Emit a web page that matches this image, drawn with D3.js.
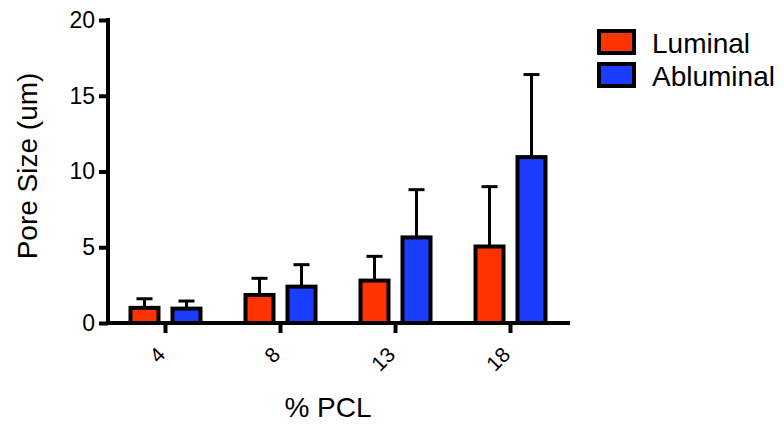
<!DOCTYPE html>
<html>
<head>
<meta charset="utf-8">
<script src="https://cdn.jsdelivr.net/npm/d3@7"></script>
<style>
  body { margin: 0; background: #fff; }
  svg { font-family: "Liberation Sans", Arial, sans-serif; }
</style>
</head>
<body>
<div id="chart"></div>
<script>
"use strict";

// Data
// ----

var categories = ["4", "8", "13", "18"];
var series     = ["Luminal", "Abluminal"];
var luminal    = [1.0, 1.85, 2.8, 5.05];
var luminalErr = [0.6, 1.1, 1.6, 3.95];
var ablum      = [0.95, 2.4, 5.65, 10.95];
var ablumErr   = [0.5, 1.45, 3.15, 5.45];
var yTicks     = [0, 5, 10, 15, 20];
var colors     = ["#ff3300", "#1a3dff"];


// Box sizing

var W = 784, H = 426,
    pLeft = 108, pRight = 568,
    pTop = 20, pBottom = 323;

var svg = d3.select("#chart").append("svg")
    .attr("width", W)
    .attr("height", H);

var x = d3.scaleBand().domain(categories).range([pLeft, pRight]);
var x1 = d3.scaleBand().domain(series)
    .range([x.bandwidth() / 2 - 42, x.bandwidth() / 2 + 42]);
var y = d3.scaleLinear().domain([0, 20]).range([pBottom, pTop]);

var rows = categories.map(function(c, i) {
  return [
    {cat: c, s: series[0], v: luminal[i], e: luminalErr[i], col: colors[0]},
    {cat: c, s: series[1], v: ablum[i], e: ablumErr[i], col: colors[1]}
  ];
});
var bars = d3.merge(rows);
var bw = 28;

function cx(d) { return x(d.cat) + x1(d.s) + x1.bandwidth() / 2; }


// Error bars

var err = svg.append("g").selectAll("g")
    .data(bars).enter().append("g")
    .attr("stroke", "#000")
    .attr("stroke-width", 3);

err.append("line")
    .attr("x1", cx)
    .attr("x2", cx)
    .attr("y1", function(d){ return y(d.v); })
    .attr("y2", function(d){ return y(d.v + d.e); });

err.append("line")
    .attr("x1", function(d){ return cx(d) - 8; })
    .attr("x2", function(d){ return cx(d) + 8; })
    .attr("y1", function(d){ return y(d.v + d.e); })
    .attr("y2", function(d){ return y(d.v + d.e); });


// Bars

svg.append("g").selectAll("rect")
    .data(bars).enter().append("rect")
    .attr("x", function(d){ return cx(d) - bw / 2; })
    .attr("y", function(d){ return y(d.v); })
    .attr("width", bw)
    .attr("height", function(d){ return y(0) - y(d.v); })
    .attr("fill", function(d){ return d.col; })
    .attr("stroke", "#000")
    .attr("stroke-width", 4);


// Axes

var yAxis = svg.append("g")
    .attr("transform", "translate(" + pLeft + ",0)")
    .call(d3.axisLeft(y).tickValues(yTicks).tickSize(9).tickPadding(4));

yAxis.selectAll("text")
    .attr("font-size", 23)
    .attr("fill", "#000");

var xAxis = svg.append("g")
    .attr("transform", "translate(0," + pBottom + ")")
    .call(d3.axisBottom(x).tickSize(10).tickPadding(4));

xAxis.selectAll("text")
    .attr("font-size", 21)
    .attr("fill", "#000")
    .attr("text-anchor", "end")
    .attr("x", 0)
    .attr("y", 0)
    .attr("dy", "0")
    .attr("transform", "translate(1,33) rotate(-45)");

svg.selectAll(".domain, .tick line")
    .attr("stroke", "#000")
    .attr("stroke-width", 4);

svg.selectAll(".domain").attr("stroke-linecap", "square");

yAxis.select(".domain").attr("d", "M0," + pTop + "V" + pBottom);
xAxis.select(".domain").attr("d", "M" + pLeft + ",0H" + pRight);


// Axis titles

svg.append("text")
    .attr("transform", "translate(37,166) rotate(-90)")
    .attr("text-anchor", "middle")
    .attr("font-size", 28)
    .text("Pore Size (um)");

svg.append("text")
    .attr("x", (pLeft + pRight) / 2 - 10)
    .attr("y", 417)
    .attr("text-anchor", "middle")
    .attr("font-size", 28)
    .text("% PCL");


// Legend

var lg = svg.append("g").selectAll("g")
    .data(series).enter().append("g")
    .attr("transform", function(d, i){ return "translate(599," + (31 + i * 33) + ")"; });

lg.append("rect")
    .attr("width", 35)
    .attr("height", 22)
    .attr("fill", function(d, i){ return colors[i]; })
    .attr("stroke", "#000")
    .attr("stroke-width", 4);

lg.append("text")
    .attr("x", 53)
    .attr("y", 22)
    .attr("font-size", 28)
    .text(function(d){ return d; });

</script>
</body>
</html>
